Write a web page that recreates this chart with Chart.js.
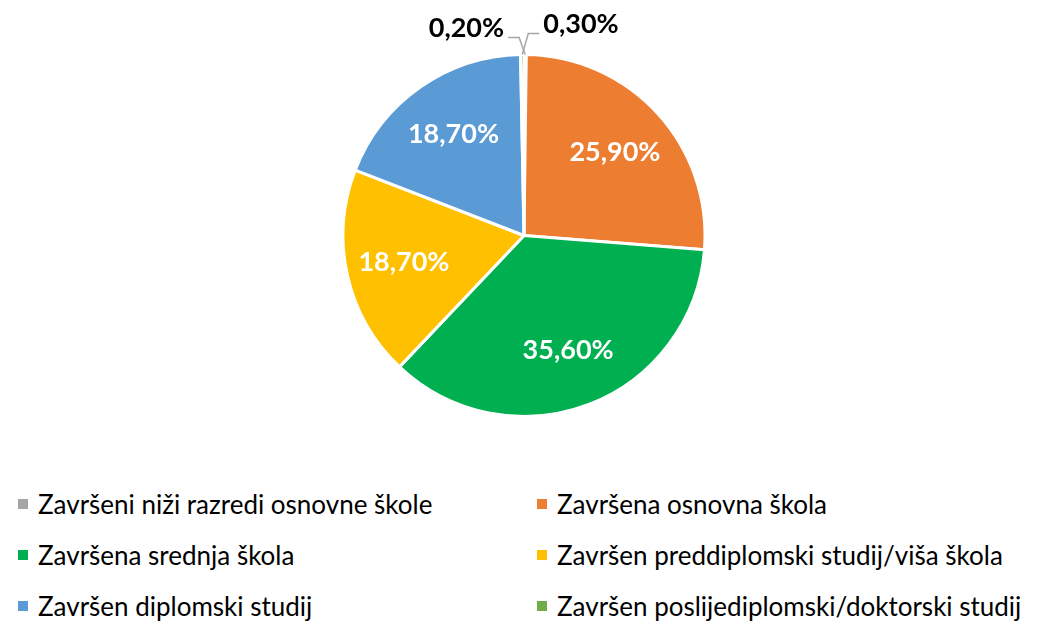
<!DOCTYPE html>
<html>
<head>
<meta charset="utf-8">
<script src="https://cdn.jsdelivr.net/npm/chart.js@4.4.1/dist/chart.umd.min.js"></script>
<style>
  body { margin: 0; background: #fff; font-family: Lato, 'Open Sans', sans-serif; }
  #wrap { position: relative; width: 1048px; height: 621px; overflow: hidden; }
  #pie { position: absolute; left: 0; top: 0; }
  #legend { position: absolute; left: 0; top: 478px; width: 1048px; display: grid;
    grid-template-columns: 537px 511px; grid-auto-rows: 51px; }
  #legend .item { display: flex; align-items: center; font-size: 26px; color: #000; }
  #legend .item:nth-child(odd) { padding-left: 18px; }
  #legend .box { width: 10px; height: 10px; margin-right: 10px; flex: none; }
</style>
</head>
<body>
<div id="wrap">
  <canvas id="pie" width="1048" height="470"></canvas>
  <div id="legend"></div>
</div>
<script>
const labels = [
  'Završeni niži razredi osnovne škole',
  'Završena osnovna škola',
  'Završena srednja škola',
  'Završen preddiplomski studij/viša škola',
  'Završen diplomski studij',
  'Završen poslijediplomski/doktorski studij',
];
const values = [0.2, 25.9, 35.6, 18.7, 18.7, 0.3];
const colors = ['#A5A5A5', '#ED7D31', '#00B050', '#FFC000', '#5B9BD5', '#70AD47'];
// side of the leader line for the tiny slices (-1 left, 1 right)
const tinySide = [-1, 0, 0, 0, 0, 1];

const fmtPct = v => v.toFixed(2).replace('.', ',') + '%';

const pctLabels = {
  id: 'pctLabels',
  afterDatasetsDraw(chart) {
    const ctx = chart.ctx;
    const meta = chart.getDatasetMeta(0);
    ctx.save();
    ctx.font = "bold 27px Lato, 'Open Sans', sans-serif";
    ctx.textBaseline = 'middle';
    meta.data.forEach((arc, i) => {
      const { x, y, startAngle, endAngle, outerRadius } =
        arc.getProps(['x', 'y', 'startAngle', 'endAngle', 'outerRadius'], true);
      const mid = (startAngle + endAngle) / 2;
      const text = fmtPct(values[i]);
      if (values[i] < 1) {
        const side = tinySide[i];
        const x0 = x + Math.cos(mid) * outerRadius;
        const y0 = y + Math.sin(mid) * outerRadius;
        const dy = side < 0 ? 17 : 21;
        const x1 = x0 + side * 6;
        const y1 = y0 - dy;
        const x2 = x1 + side * 11;
        ctx.strokeStyle = '#A6A6A6';
        ctx.lineWidth = 1.5;
        ctx.beginPath();
        ctx.moveTo(x0, y0);
        ctx.lineTo(x1, y1);
        ctx.lineTo(x2, y1);
        ctx.stroke();
        ctx.fillStyle = '#000';
        ctx.textAlign = side < 0 ? 'right' : 'left';
        ctx.fillText(text, x2 + side * 4, y1 - 9);
      } else {
        const r = outerRadius * 0.68;
        ctx.fillStyle = '#fff';
        ctx.textAlign = 'center';
        ctx.fillText(text, x + Math.cos(mid) * r, y + Math.sin(mid) * r);
      }
    });
    ctx.restore();
  }
};

new Chart(document.getElementById('pie'), {
  type: 'pie',
  data: {
    labels,
    datasets: [{ data: values, backgroundColor: colors, borderColor: '#fff', borderWidth: 3 }],
  },
  options: {
    responsive: false,
    animation: false,
    events: [],
    layout: { padding: { top: 53, bottom: 52 } },
    plugins: { legend: { display: false }, tooltip: { enabled: false } },
  },
  plugins: [pctLabels],
});

document.getElementById('legend').innerHTML = labels.map((l, i) =>
  `<div class="item"><span class="box" style="background:${colors[i]}"></span><span>${l}</span></div>`
).join('');
</script>
</body>
</html>
